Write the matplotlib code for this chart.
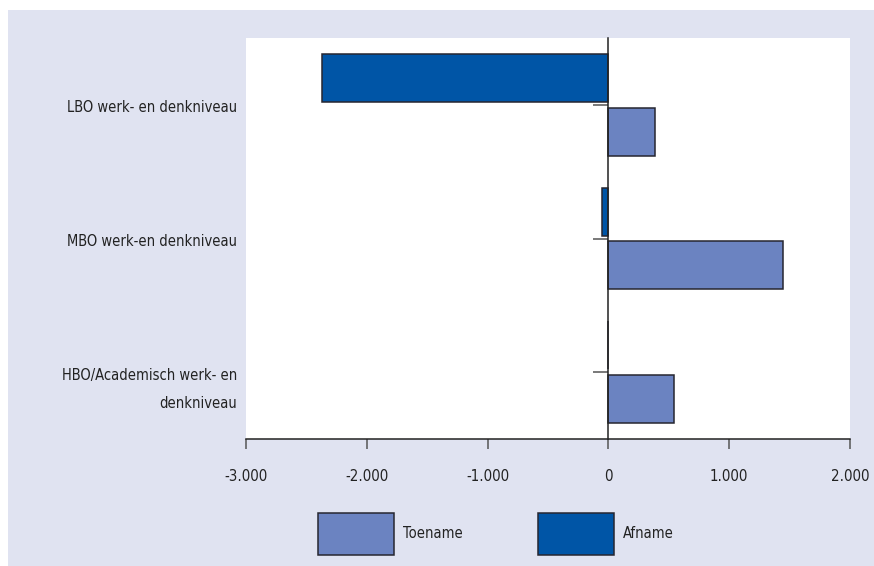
import matplotlib
matplotlib.use("Agg")
import matplotlib.pyplot as plt
import matplotlib.transforms as mtransforms
from matplotlib.patches import Rectangle
import numpy as np

# Data (aantallen)
categories = ["LBO werk- en denkniveau", "MBO werk-en denkniveau",
              "HBO/Academisch werk- en\ndenkniveau"]
toename = [382, 1446, 540]
afname = [-2370, -50, 0]
series_names = ["Toename", "Afname"]
xticks = [-3000, -2000, -1000, 0, 1000, 2000]
xtick_labels = ["-3.000", "-2.000", "-1.000", "0", "1.000", "2.000"]

plt.rcParams["font.family"] = ["DejaVu Sans"]
plt.rcParams["font.stretch"] = "condensed"

col_toe = "#6b83c1"
col_af = "#0055a6"
bg = "#e0e3f1"
edge = "#262630"
txt = "#222222"

W, H = 874, 566
fig = plt.figure(figsize=(W / 100, H / 100), dpi=100)
fig.patch.set_facecolor("white")
fig.patches.append(Rectangle((8 / W, 0), 1 - 8 / W, 1 - 10 / H,
                             transform=fig.transFigure, facecolor=bg,
                             edgecolor="none", zorder=-10))

ax = fig.add_axes([246 / W, (H - 439) / H, (850 - 246) / W, (439 - 38) / H])
ax.set_facecolor("white")

y = np.arange(len(categories))
h = 0.36
ax.barh(y - 0.2, afname, height=h, color=col_af, edgecolor=edge,
        linewidth=1.1, label=series_names[1], zorder=3)
ax.barh(y + 0.2, toename, height=h, color=col_toe, edgecolor=edge,
        linewidth=1.1, label=series_names[0], zorder=3)

ax.set_xlim(-3000, 2000)
ax.set_ylim(len(categories) - 0.5, -0.5)

ax.set_xticks(xticks)
ax.set_xticklabels(xtick_labels, fontsize=10.8, color=txt)
ax.tick_params(axis="x", direction="out", length=7.5, width=1.1,
               color="#555555", pad=14)

for s in ("top", "right"):
    ax.spines[s].set_visible(False)
ax.spines["bottom"].set_color(txt)
ax.spines["bottom"].set_linewidth(1.1)
ax.spines["left"].set_position(("data", 0))
ax.spines["left"].set_color(txt)
ax.spines["left"].set_linewidth(1.1)
ax.spines["left"].set_zorder(4)

ax.set_yticks(y)
ax.set_yticklabels([])
ax.tick_params(axis="y", direction="out", length=11, width=1.1,
               color="#555555")

# category labels: first line level with the tick, further lines below
trans = mtransforms.blended_transform_factory(ax.transAxes, ax.transData)
line_step = 28 / 100  # inches between lines
for yi, cat in zip(y, categories):
    for k, line in enumerate(cat.split("\n")):
        off = mtransforms.ScaledTranslation(0, -0.03 - k * line_step,
                                            fig.dpi_scale_trans)
        ax.text(-0.015, yi, line, transform=trans + off, ha="right",
                va="center", fontsize=10.5, color=txt)

handles, labels = ax.get_legend_handles_labels()
order = [1, 0]
fig.legend([handles[i] for i in order], [labels[i] for i in order],
           loc="center", bbox_to_anchor=(496 / W, 1 - 534 / H),
           ncol=2, frameon=False, fontsize=10.5, handlelength=5.2,
           handleheight=3.95, handletextpad=0.6, columnspacing=5.2,
           labelcolor=txt)

fig.savefig("out.png", dpi=100)
